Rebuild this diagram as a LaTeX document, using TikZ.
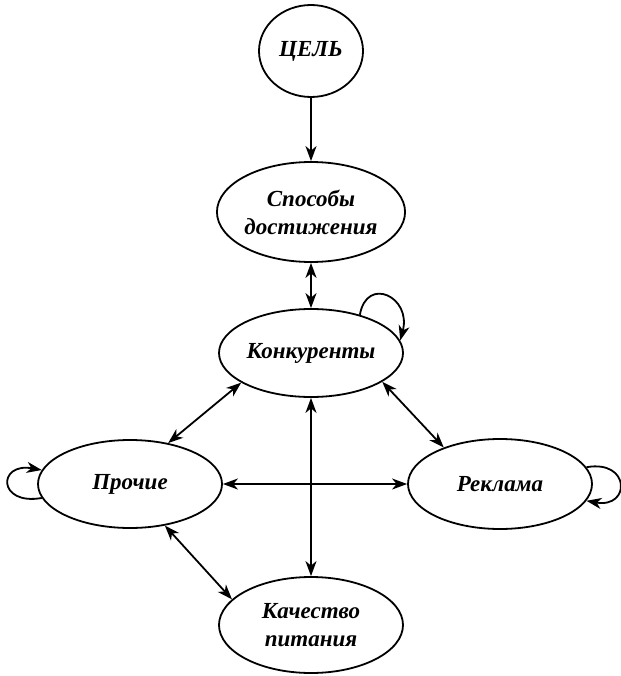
\documentclass[tikz,border=0pt]{standalone}
\usepackage{fontspec}
\setmainfont{Liberation Serif}
\usetikzlibrary{shapes.geometric,arrows.meta}
\tikzset{
  ell/.style={draw, ellipse, line width=1.8pt, inner sep=0pt, align=center,
    font=\fontsize{23}{28}\selectfont\bfseries\itshape},
  conn/.style={line width=1.8pt, {Stealth[length=15pt,width=11pt,inset=4.5pt]}-{Stealth[length=15pt,width=11pt,inset=4.5pt]}},
  oneway/.style={line width=1.8pt, -{Stealth[length=15pt,width=11pt,inset=4.5pt]}}
}
\begin{document}
\begin{tikzpicture}[x=1pt,y=-1pt]
\useasboundingbox (0,0) rectangle (620,676);
\node[ell, minimum width=104pt, minimum height=92pt] (cel) at (311,51) {ЦЕЛЬ};
\node[ell, minimum width=184pt, minimum height=100pt] (spos) at (311,212) {Способы\\достижения};
\node[ell, minimum width=184pt, minimum height=88pt] (konk) at (311,353) {Конкуренты};
\node[ell, minimum width=184pt, minimum height=88pt] (proch) at (130,484) {Прочие};
\node[ell, minimum width=184pt, minimum height=90pt] (rekl) at (500,484) {Реклама};
\node[ell, minimum width=184pt, minimum height=96pt] (kach) at (311,625) {Качество\\питания};

\draw[oneway] (cel.south) -- (spos.north);
\draw[conn] (spos.south) -- (konk.north);
\draw[conn] (konk.203) -- (proch.47);
\draw[conn] (konk.-22) -- (rekl.147);
\draw[conn] (proch.east) -- (rekl.west);
\draw[conn] (konk.south) -- (kach.north);
\draw[conn] (proch.-50) -- (kach.162);

\draw[oneway] (konk.38) .. controls +(-80:40) and +(-75:45) .. (konk.8);
\draw[oneway] (proch.189) .. controls +(170:45) and +(190:45) .. (proch.171);
\draw[oneway] (rekl.11) .. controls +(-10:45) and +(10:45) .. (rekl.-11);
\end{tikzpicture}
\end{document}
